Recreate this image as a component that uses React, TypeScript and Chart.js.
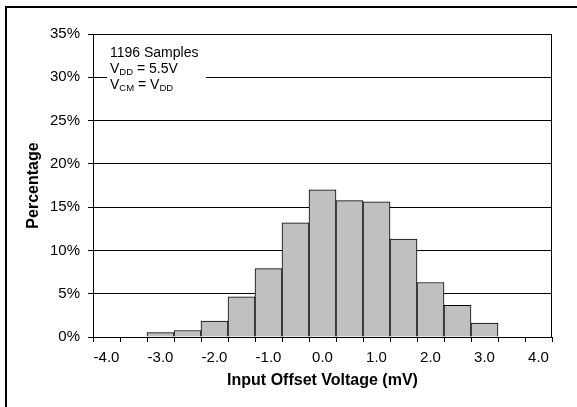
import React, { useEffect, useRef } from 'react';
import { Chart, registerables } from 'chart.js';

Chart.register(...registerables);

const binLabels = ['-4.0', '-3.5', '-3.0', '-2.5', '-2.0', '-1.5', '-1.0', '-0.5', '0.0', '0.5', '1.0', '1.5', '2.0', '2.5', '3.0', '3.5', '4.0'];
const percentages = [0, 0, 0.5, 0.75, 1.85, 4.65, 7.9, 13.2, 17.0, 15.75, 15.6, 11.3, 6.3, 3.65, 1.6, 0, 0];
const yMin = 0;
const yMax = 35;
const yStep = 5;
const xTitle = 'Input Offset Voltage (mV)';
const yTitle = 'Percentage';
const sampleText = '1196 Samples';

const FONT = '"Liberation Sans", Arial, sans-serif';

const framePlugin = {
  id: 'frameAndNote',
  beforeDraw(chart: any) {
    const ctx = chart.ctx;
    ctx.save();
    ctx.fillStyle = '#fff';
    ctx.fillRect(0, 0, chart.width, chart.height);
    ctx.fillStyle = '#000';
    ctx.fillRect(5, 6, 2, chart.height - 6);
    ctx.fillRect(5, 6, chart.width - 5, 2);
    ctx.restore();
  },
  afterDraw(chart: any) {
    const ctx = chart.ctx;
    const a = chart.chartArea;
    ctx.save();
    ctx.strokeStyle = '#000';
    ctx.lineWidth = 1;
    ctx.strokeRect(Math.round(a.left) + 0.5, Math.round(a.top) + 0.5, Math.round(a.right - a.left) - 1, Math.round(a.bottom - a.top));
    // note box
    const bx = a.left + 14;
    const by = a.top + 8;
    ctx.fillStyle = '#fff';
    ctx.fillRect(bx, by, 99, 54);
    ctx.fillStyle = '#000';
    ctx.textBaseline = 'alphabetic';
    ctx.textAlign = 'left';
    const big = '14px ' + FONT;
    const small = '9.5px ' + FONT;
    const tx = a.left + 17;
    let y = a.top + 22.5;
    ctx.font = big;
    ctx.fillText(sampleText, tx, y);
    const drawRuns = (runs: [string, boolean][], yy: number) => {
      let x = tx;
      for (const [t, sub] of runs) {
        ctx.font = sub ? small : big;
        ctx.fillText(t, x, sub ? yy + 2 : yy);
        x += ctx.measureText(t).width;
      }
    };
    y += 16;
    drawRuns([['V', false], ['DD', true], [' = 5.5V', false]], y);
    y += 16;
    drawRuns([['V', false], ['CM', true], [' = V', false], ['DD', true]], y);
    ctx.restore();
  },
};

export default function App() {
  const ref = useRef<HTMLCanvasElement | null>(null);
  useEffect(() => {
    if (!ref.current) return;
    const chart = new Chart(ref.current, {
      type: 'bar',
      data: {
        labels: binLabels,
        datasets: [
          {
            data: percentages,
            backgroundColor: '#c0c0c0',
            borderColor: '#000',
            borderWidth: 1,
            barPercentage: 1,
            categoryPercentage: 1,
          },
        ],
      },
      options: {
        animation: false,
        responsive: false,
        layout: { padding: { left: 20, right: 25, top: 34, bottom: 0 } },
        plugins: { legend: { display: false }, tooltip: { enabled: false } },
        scales: {
          x: {
            offset: true,
            grid: { offset: true, drawOnChartArea: false, drawTicks: true, tickLength: 5, color: '#000' },
            border: { display: true, color: '#000', width: 1 },
            ticks: {
              autoSkip: false,
              maxRotation: 0,
              padding: 7,
              color: '#000',
              font: { family: FONT, size: 15 },
              callback: (_v: any, i: number) => (i % 2 === 0 ? binLabels[i] : ''),
            },
            title: {
              display: true,
              text: xTitle,
              color: '#000',
              font: { family: FONT, size: 16, weight: 'bold' },
              padding: { top: 0, bottom: 17 },
            },
            afterFit: (s: any) => {
              s.height = 70;
            },
          },
          y: {
            min: yMin,
            max: yMax,
            ticks: {
              stepSize: yStep,
              padding: 8,
              color: '#000',
              font: { family: FONT, size: 15 },
              callback: (v: any) => v + '%',
            },
            grid: { color: '#000', drawTicks: true, tickLength: 5 },
            border: { display: true, color: '#000', width: 1 },
            title: {
              display: true,
              text: yTitle,
              color: '#000',
              font: { family: FONT, size: 16, weight: 'bold' },
              padding: { top: 4, bottom: 0 },
            },
            afterFit: (s: any) => {
              s.width = 73;
            },
          },
        },
      },
      plugins: [framePlugin],
    } as any);
    return () => chart.destroy();
  }, []);
  return (
    <div style={{ position: 'fixed', left: 0, top: 0, width: 577, height: 407 }}>
      <canvas ref={ref} width={577} height={407} style={{ display: 'block', width: 577, height: 407 }} />
    </div>
  );
}
